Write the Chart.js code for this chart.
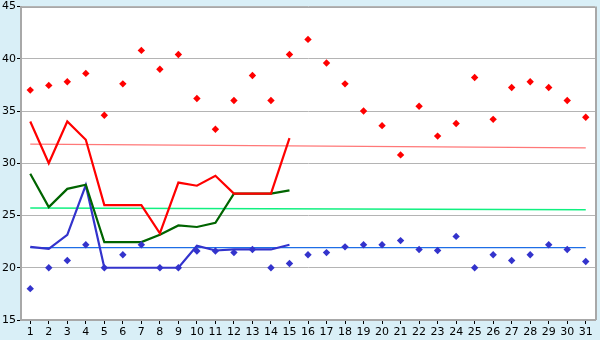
<!DOCTYPE html>
<html>
<head>
<meta charset="utf-8">
<script src="https://cdn.jsdelivr.net/npm/chart.js@4/dist/chart.umd.min.js"></script>
<style>
  html, body { margin: 0; padding: 0; background: #d9eff7; }
  #wrap { width: 600px; height: 340px; }
</style>
</head>
<body>
<div id="wrap"><canvas id="chart" width="600" height="340"></canvas></div>
<script>
// ── Data ─────────────────────────────────────────────────────────────────────
const days = Array.from({ length: 31 }, (_, i) => String(i + 1));

const highPoints = [37.0, 37.45, 37.8, 38.6, 34.6, 37.6, 40.8, 39.0, 40.4, 36.2,
                    33.25, 36.0, 38.4, 36.0, 40.4, 41.85, 39.6, 37.6, 35.0, 33.6,
                    30.8, 35.45, 32.6, 33.8, 38.2, 34.2, 37.25, 37.8, 37.25, 36.0, 34.4];
const lowPoints  = [18.0, 20.0, 20.7, 22.2, 20.0, 21.25, 22.2, 20.0, 20.0, 21.6,
                    21.6, 21.45, 21.75, 20.0, 20.4, 21.25, 21.45, 22.0, 22.2, 22.2,
                    22.6, 21.75, 21.65, 23.0, 20.0, 21.25, 20.7, 21.25, 22.2, 21.75, 20.6];

const redLine   = [34.0, 30.0, 34.0, 32.25, 26.0, 26.0, 26.0, 23.3, 28.15, 27.85,
                   28.8, 27.1, 27.1, 27.1, 32.4];
const greenLine = [29.0, 25.8, 27.55, 27.95, 22.45, 22.45, 22.45, 23.15, 24.05, 23.9,
                   24.3, 27.1, 27.1, 27.1, 27.4];
const blueLine  = [22.0, 21.8, 23.15, 27.9, 20.0, 20.0, 20.0, 20.0, 20.0, 22.1,
                   21.65, 21.75, 21.75, 21.75, 22.2];

// trend lines: value at day 1 and at day 31
const trendHigh  = [31.83, 31.48];
const trendMid   = [25.72, 25.55];
const trendLow   = [21.92, 21.92];

const yTicks = [15, 20, 25, 30, 35, 40, 45];

// ── Helpers ──────────────────────────────────────────────────────────────────
const ends = pair => days.map((_, i) => i === 0 ? pair[0] : (i === days.length - 1 ? pair[1] : null));

const frame = {
  id: 'frame',
  beforeDraw(chart) {
    const { ctx, chartArea: a } = chart;
    ctx.save();
    ctx.fillStyle = '#d9eff7';
    ctx.fillRect(0, 0, chart.width, chart.height);
    ctx.fillStyle = '#ffffff';
    ctx.fillRect(a.left, a.top, a.right - a.left, a.bottom - a.top);
    ctx.restore();
  },
  afterDraw(chart) {
    const { ctx, chartArea: a } = chart;
    ctx.save();
    ctx.strokeStyle = '#a8a8a8';
    ctx.lineWidth = 1;
    ctx.beginPath();
    ctx.moveTo(a.left, Math.round(a.top) + 0.5);
    ctx.lineTo(a.right, Math.round(a.top) + 0.5);
    ctx.stroke();
    ctx.lineWidth = 2;
    ctx.beginPath();
    ctx.moveTo(Math.round(a.right) + 1, a.top);
    ctx.lineTo(Math.round(a.right) + 1, a.bottom);
    ctx.stroke();
    ctx.restore();
  },
};

const lineDs = (label, data, color, width, order) => ({
  type: 'line', label, data, borderColor: color, backgroundColor: color,
  borderWidth: width, pointRadius: 0, tension: 0, spanGaps: true, order,
});

const dotDs = (label, data, color, order) => ({
  type: 'line', label, data, showLine: false, borderColor: color, backgroundColor: color,
  pointStyle: 'rectRot', pointRadius: 3.7, pointBorderWidth: 0, order,
});

const tickFont = { family: 'DejaVu Sans', size: 11, lineHeight: 1 };

new Chart(document.getElementById('chart'), {
  data: {
    labels: days,
    datasets: [
      dotDs('High', highPoints, '#ff0000', 1),
      dotDs('Low',  lowPoints,  '#3333cc', 1),
      lineDs('Red',   redLine,   '#ff0000', 2.2, 2),
      lineDs('Green', greenLine, '#006400', 2.2, 2),
      lineDs('Blue',  blueLine,  '#3333cc', 2.2, 2),
      lineDs('Trend high', ends(trendHigh), '#ff7878', 1.3, 3),
      lineDs('Trend mid',  ends(trendMid),  '#10f080', 1.3, 3),
      lineDs('Trend low',  ends(trendLow),  '#1e6ee6', 1.3, 3),
    ],
  },
  options: {
    responsive: false,
    animation: false,
    layout: { padding: { top: 5, right: 5, left: 0, bottom: 0 } },
    plugins: { legend: { display: false }, tooltip: { enabled: false } },
    scales: {
      x: {
        offset: true,
        grid: { drawOnChartArea: false, drawTicks: true, tickLength: 4, tickColor: '#000', offset: false },
        border: { color: '#a8a8a8', width: 2 },
        ticks: { color: '#000', font: tickFont, padding: 3, maxRotation: 0, autoSkip: false },
        afterFit: s => { s.height = 20; },
      },
      y: {
        min: 15, max: 45,
        afterBuildTicks: s => { s.ticks = yTicks.map(v => ({ value: v })); },
        grid: { color: '#b4b4b4', tickLength: 4, tickColor: '#000' },
        border: { color: '#a8a8a8', width: 2 },
        ticks: { color: '#000', font: tickFont, padding: 1 },
        afterFit: s => { s.width = 21; },
      },
    },
  },
  plugins: [frame],
});
</script>
</body>
</html>
